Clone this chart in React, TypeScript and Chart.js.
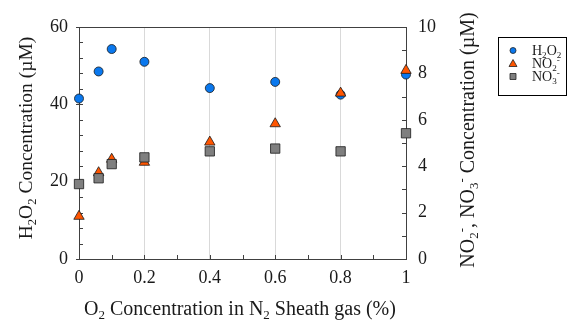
import React, { useEffect, useRef } from "react";
import { Chart, registerables } from "chart.js";

Chart.register(...registerables);

const oxygenPct = [0, 0.06, 0.1, 0.2, 0.4, 0.6, 0.8, 1.0];
const h2o2 = [41.5, 48.5, 54.3, 51.0, 44.2, 45.8, 42.5, 47.7];
const no2 = [1.84, 3.72, 4.3, 4.17, 5.04, 5.83, 7.15, 8.13];
const no3 = [3.23, 3.48, 4.09, 4.38, 4.64, 4.76, 4.64, 5.42];

const xMajorLabels = [0, 0.2, 0.4, 0.6, 0.8, 1];
const leftLabels = [0, 20, 40, 60];
const rightLabels = [0, 2, 4, 6, 8, 10];

const FONT = "'Liberation Serif', 'Times New Roman', serif";
const AXIS = "#404040";
const BLUE = "#0a78ee";
const ORANGE = "#ff5500";
const GRAY = "#7f7f7f";

type Part = { t: string; k?: "sub" | "sup" };

function richWidth(ctx: CanvasRenderingContext2D, parts: Part[], size: number) {
  let w = 0;
  for (const p of parts) {
    const s = p.k ? size * 0.65 : size;
    ctx.font = `${s}px ${FONT}`;
    w += ctx.measureText(p.t).width;
  }
  return w;
}

function drawRich(ctx: CanvasRenderingContext2D, parts: Part[], x: number, y: number, size: number) {
  let cx = x;
  ctx.textBaseline = "alphabetic";
  ctx.textAlign = "left";
  for (const p of parts) {
    const s = p.k ? size * 0.65 : size;
    ctx.font = `${s}px ${FONT}`;
    let dy = 0;
    if (p.k === "sub") dy = size * 0.22;
    if (p.k === "sup") dy = -size * 0.38;
    ctx.fillText(p.t, cx, y + dy);
    cx += ctx.measureText(p.t).width;
  }
}

const h2o2Label: Part[] = [{ t: "H" }, { t: "2", k: "sub" }, { t: "O" }, { t: "2", k: "sub" }];
const no2Label: Part[] = [{ t: "NO" }, { t: "2", k: "sub" }, { t: "-", k: "sup" }];
const no3Label: Part[] = [{ t: "NO" }, { t: "3", k: "sub" }, { t: "-", k: "sup" }];
const leftTitle: Part[] = [{ t: "H" }, { t: "2", k: "sub" }, { t: "O" }, { t: "2", k: "sub" }, { t: " Concentration (\u00b5M)" }];
const rightTitle: Part[] = [
  { t: "NO" }, { t: "2", k: "sub" }, { t: "-", k: "sup" }, { t: ", NO" }, { t: "3", k: "sub" }, { t: "-", k: "sup" },
  { t: " Concentration (\u00b5M)" },
];
const bottomTitle: Part[] = [
  { t: "O" }, { t: "2", k: "sub" }, { t: " Concentration in N" }, { t: "2", k: "sub" }, { t: " Sheath gas (%)" },
];

const decorPlugin = {
  id: "decor",
  beforeDatasetsDraw(chart: any) {
    const ctx: CanvasRenderingContext2D = chart.ctx;
    const { left, right, top, bottom } = chart.chartArea;
    const x = chart.scales.x;
    const y = chart.scales.y;
    const y1 = chart.scales.y1;
    ctx.save();
    ctx.strokeStyle = AXIS;
    ctx.lineWidth = 1;
    ctx.beginPath();
    ctx.moveTo(left, top + 0.5);
    ctx.lineTo(right, top + 0.5);
    for (let i = 0; i <= 10; i++) {
      const px = Math.round(x.getPixelForValue(i / 10)) + 0.5;
      ctx.moveTo(px, bottom);
      ctx.lineTo(px, bottom - 4);
    }
    for (let v = 0; v <= 60; v += 4) {
      const py = Math.round(y.getPixelForValue(v)) + 0.5;
      ctx.moveTo(left, py);
      ctx.lineTo(left + 4, py);
    }
    for (const v of leftLabels) {
      const py = Math.round(y.getPixelForValue(v)) + 0.5;
      ctx.moveTo(left - 3, py);
      ctx.lineTo(left, py);
    }
    for (let v = 0; v <= 10; v += 1) {
      const py = Math.round(y1.getPixelForValue(v)) + 0.5;
      ctx.moveTo(right, py);
      ctx.lineTo(right - 4, py);
    }
    ctx.stroke();
    ctx.restore();
  },
  afterDraw(chart: any) {
    const ctx: CanvasRenderingContext2D = chart.ctx;
    ctx.save();
    ctx.fillStyle = "#1a1a1a";
    const ts = 20;
    const bw = richWidth(ctx, bottomTitle, ts);
    drawRich(ctx, bottomTitle, 240 - bw / 2, 315, ts);
    const lw = richWidth(ctx, leftTitle, 19.5);
    ctx.save();
    ctx.translate(32, 138);
    ctx.rotate(-Math.PI / 2);
    drawRich(ctx, leftTitle, -lw / 2, 0, 19.5);
    ctx.restore();
    const rw = richWidth(ctx, rightTitle, ts);
    ctx.save();
    ctx.translate(474, 140);
    ctx.rotate(-Math.PI / 2);
    drawRich(ctx, rightTitle, -rw / 2, 0, ts);
    ctx.restore();

    const lx = 498.5, ly = 37.5, lw2 = 68, lh = 58;
    ctx.strokeStyle = "#000";
    ctx.lineWidth = 1;
    ctx.strokeRect(lx, ly, lw2, lh);
    const rows = [
      { parts: h2o2Label, style: "circle", color: BLUE, y: 55 },
      { parts: no2Label, style: "triangle", color: ORANGE, y: 68 },
      { parts: no3Label, style: "rect", color: GRAY, y: 81 },
    ];
    for (const r of rows) {
      ctx.fillStyle = r.color;
      ctx.strokeStyle = "#222";
      ctx.lineWidth = 0.8;
      const mx = 513, my = r.y - 4.5;
      ctx.beginPath();
      if (r.style === "circle") {
        ctx.arc(mx, my, 3, 0, Math.PI * 2);
      } else if (r.style === "triangle") {
        ctx.moveTo(mx, my - 4);
        ctx.lineTo(mx + 4, my + 3);
        ctx.lineTo(mx - 4, my + 3);
        ctx.closePath();
      } else {
        ctx.rect(mx - 3, my - 3, 6, 6);
      }
      ctx.fill();
      ctx.stroke();
      ctx.fillStyle = "#1a1a1a";
      drawRich(ctx, r.parts, 532, r.y, 14);
    }
    ctx.restore();
  },
};

export default function App() {
  const ref = useRef<HTMLCanvasElement | null>(null);
  useEffect(() => {
    document.body.style.margin = "0";
    const canvas = ref.current!;
    const tickFont = { family: FONT, size: 18 };
    const chart = new Chart(canvas, {
      type: "scatter",
      data: {
        datasets: [
          {
            label: "H2O2",
            data: oxygenPct.map((x, i) => ({ x, y: h2o2[i] })),
            yAxisID: "y",
            pointStyle: "circle",
            pointRadius: 4.5,
            backgroundColor: BLUE,
            borderColor: "#1a1a1a",
            borderWidth: 0.8,
            order: 2,
            clip: false,
          },
          {
            label: "NO2-",
            data: oxygenPct.map((x, i) => ({ x, y: no2[i] })),
            yAxisID: "y1",
            pointStyle: "triangle",
            pointRadius: 6,
            backgroundColor: ORANGE,
            borderColor: "#1a1a1a",
            borderWidth: 0.8,
            order: 1,
            clip: false,
          },
          {
            label: "NO3-",
            data: oxygenPct.map((x, i) => ({ x, y: no3[i] })),
            yAxisID: "y1",
            pointStyle: "rect",
            pointRadius: 6.6,
            backgroundColor: GRAY,
            borderColor: "#1a1a1a",
            borderWidth: 0.8,
            order: 0,
            clip: false,
          },
        ],
      },
      options: {
        animation: false,
        responsive: false,
        layout: { padding: { top: 27, left: 0, right: 0, bottom: 0 } },
        plugins: { legend: { display: false }, tooltip: { enabled: false } },
        scales: {
          x: {
            type: "linear",
            min: 0,
            max: 1,
            afterFit: (s: any) => { s.height = 64; },
            afterBuildTicks: (s: any) => { s.ticks = xMajorLabels.map((v) => ({ value: v })); },
            ticks: {
              font: tickFont,
              color: "#1a1a1a",
              padding: 8,
              maxRotation: 0,
              autoSkip: false,
              callback: (v: any) => String(Number(v)),
            },
            grid: {
              drawTicks: false,
              color: (c: any) => (c.tick && c.tick.value > 0 && c.tick.value < 1 ? "#d9d9d9" : "rgba(0,0,0,0)"),
              lineWidth: 1,
            },
            border: { display: true, color: AXIS, width: 1 },
          },
          y: {
            type: "linear",
            position: "left",
            min: 0,
            max: 60,
            afterFit: (s: any) => { s.width = 79; },
            afterBuildTicks: (s: any) => { s.ticks = leftLabels.map((v) => ({ value: v })); },
            ticks: { font: tickFont, color: "#1a1a1a", padding: 11, autoSkip: false },
            grid: { display: false, drawTicks: false },
            border: { display: true, color: AXIS, width: 1 },
          },
          y1: {
            type: "linear",
            position: "right",
            min: 0,
            max: 10,
            afterFit: (s: any) => { s.width = 163; },
            afterBuildTicks: (s: any) => { s.ticks = rightLabels.map((v) => ({ value: v })); },
            ticks: { font: tickFont, color: "#1a1a1a", padding: 12, autoSkip: false },
            grid: { display: false, drawTicks: false },
            border: { display: true, color: AXIS, width: 1 },
          },
        },
      },
      plugins: [decorPlugin],
    });
    return () => chart.destroy();
  }, []);
  return (
    <div style={{ width: 569, height: 323 }}>
      <canvas ref={ref} width={569} height={323} />
    </div>
  );
}
